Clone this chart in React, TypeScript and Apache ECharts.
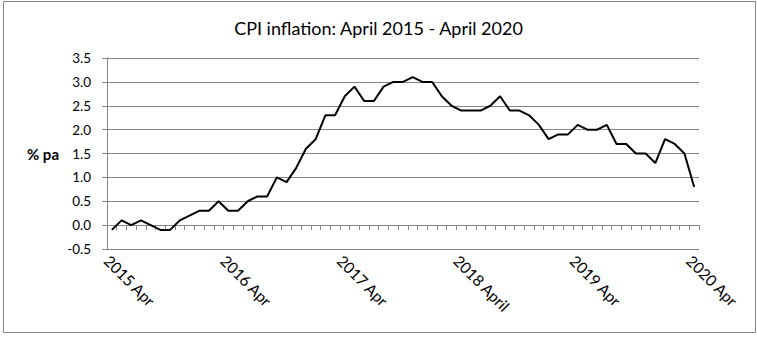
import React, { useEffect, useRef } from "react";
import * as echarts from "echarts";

const months: string[] = [
  "2015-04","2015-05","2015-06","2015-07","2015-08","2015-09","2015-10","2015-11","2015-12",
  "2016-01","2016-02","2016-03","2016-04","2016-05","2016-06","2016-07","2016-08","2016-09","2016-10","2016-11","2016-12",
  "2017-01","2017-02","2017-03","2017-04","2017-05","2017-06","2017-07","2017-08","2017-09","2017-10","2017-11","2017-12",
  "2018-01","2018-02","2018-03","2018-04","2018-05","2018-06","2018-07","2018-08","2018-09","2018-10","2018-11","2018-12",
  "2019-01","2019-02","2019-03","2019-04","2019-05","2019-06","2019-07","2019-08","2019-09","2019-10","2019-11","2019-12",
  "2020-01","2020-02","2020-03","2020-04",
];

const cpi: number[] = [
  -0.1, 0.1, 0.0, 0.1, 0.0, -0.1, -0.1, 0.1, 0.2,
  0.3, 0.3, 0.5, 0.3, 0.3, 0.5, 0.6, 0.6, 1.0, 0.9, 1.2, 1.6,
  1.8, 2.3, 2.3, 2.7, 2.9, 2.6, 2.6, 2.9, 3.0, 3.0, 3.1, 3.0,
  3.0, 2.7, 2.5, 2.4, 2.4, 2.4, 2.5, 2.7, 2.4, 2.4, 2.3, 2.1,
  1.8, 1.9, 1.9, 2.1, 2.0, 2.0, 2.1, 1.7, 1.7, 1.5, 1.5, 1.3,
  1.8, 1.7, 1.5, 0.8,
];

const xTickLabels: string[] = ["2015 Apr", "2016 Apr", "2017 Apr", "2018 April", "2019 Apr", "2020 Apr"];

const FONT = "Lato, 'Noto Sans', sans-serif";
const GRAY = "#868686";

export default function App() {
  const ref = useRef<HTMLDivElement>(null);

  useEffect(() => {
    document.body.style.margin = "0";
    if (!ref.current) return;
    const chart = echarts.init(ref.current, undefined, { renderer: "svg" });
    const seriesData = cpi.map((v, i) => [i + 0.5, v]);
    chart.setOption({
      animation: false,
      backgroundColor: "#ffffff",
      textStyle: { fontFamily: FONT },
      title: {
        text: "CPI inflation: April 2015 - April 2020",
        left: "center",
        top: 14,
        textStyle: { fontFamily: FONT, fontSize: 18, fontWeight: "normal", color: "#000" },
      },
      graphic: [
        {
          type: "rect",
          shape: { x: 3.5, y: 1.5, width: 752, height: 331 },
          style: { fill: "none", stroke: GRAY, lineWidth: 1 },
          silent: true,
        },
      ],
      grid: { left: 107, right: 58, top: 58, bottom: 90 },
      xAxis: {
        type: "value",
        min: 0,
        max: months.length,
        interval: 1,
        axisLine: { show: true, lineStyle: { color: GRAY, width: 1 } },
        axisTick: { show: true, length: 5, lineStyle: { color: GRAY } },
        splitLine: { show: false },
        axisLabel: {
          rotate: -45,
          margin: 9,
          fontFamily: FONT,
          fontSize: 15.5,
          color: "#000",
          showMinLabel: true,
          showMaxLabel: true,
          formatter: (val: number) => {
            const k = Math.round(val);
            if (k % 12 === 0 && k / 12 < xTickLabels.length) return xTickLabels[k / 12];
            return "";
          },
        },
      },
      yAxis: {
        type: "value",
        min: -0.5,
        max: 3.5,
        interval: 0.5,
        name: "% pa",
        nameLocation: "middle",
        nameRotate: 0,
        nameGap: 48,
        nameTextStyle: { fontFamily: FONT, fontSize: 15, fontWeight: "bold", color: "#000" },
        axisLine: { show: true, lineStyle: { color: GRAY, width: 1 } },
        axisTick: { show: true, length: 5, lineStyle: { color: GRAY } },
        splitLine: { show: true, lineStyle: { color: GRAY, width: 1 } },
        axisLabel: {
          margin: 16,
          fontFamily: FONT,
          fontSize: 13.5,
          color: "#000",
          formatter: (v: number) => v.toFixed(1),
        },
      },
      series: [
        {
          type: "line",
          data: seriesData,
          symbol: "none",
          lineStyle: { color: "#000", width: 2 },
          itemStyle: { color: "#000" },
        },
      ],
    });
    return () => chart.dispose();
  }, []);

  return <div ref={ref} style={{ width: 757, height: 339 }} />;
}
